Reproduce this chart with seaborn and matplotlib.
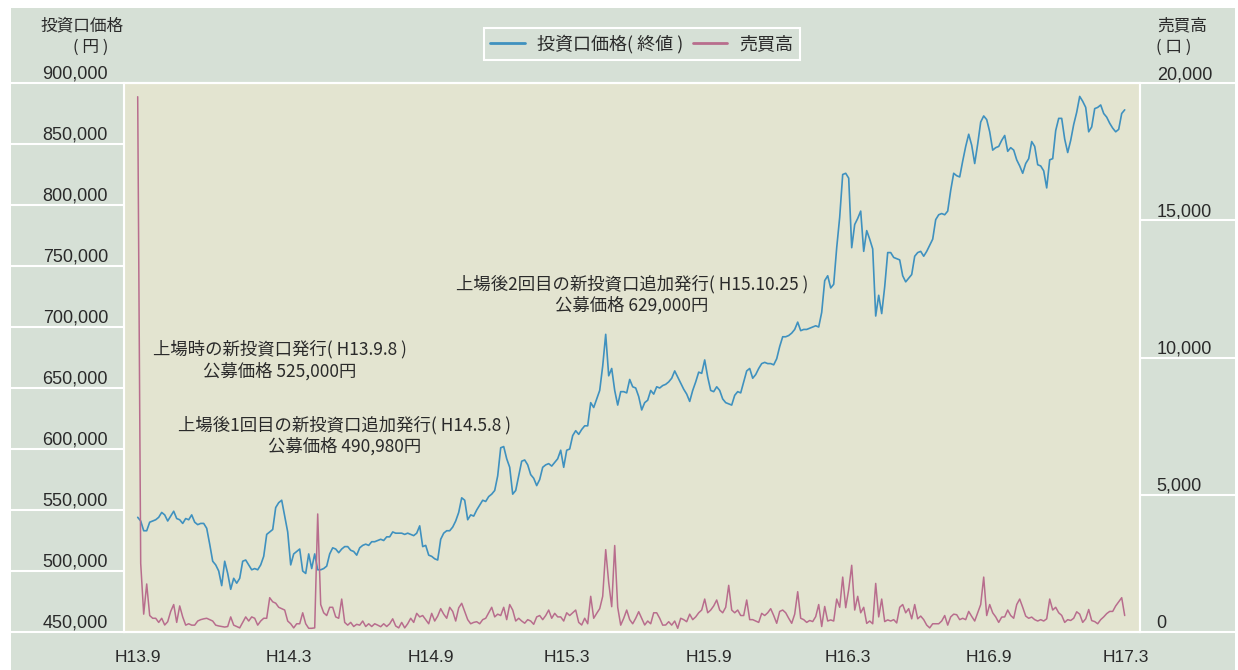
import numpy as np
import pandas as pd
import seaborn as sns
import matplotlib.pyplot as plt
from matplotlib.lines import Line2D
from matplotlib.patches import Rectangle

# closing price (thousand yen), one sample every 3 trading days from listing
price = [
    544, 541, 533, 533, 540, 541, 542, 544, 548, 546,
    541, 545, 549, 543, 542, 539, 543, 542, 546, 540,
    538, 539, 539, 535, 522, 508, 505, 500, 488, 508,
    498, 485, 494, 490, 494, 508, 509, 505, 501, 502,
    501, 505, 512, 530, 532, 534, 552, 556, 558, 545,
    532, 505, 514, 516,
    518, 500, 498, 514, 502, 514, 501, 501, 502, 504,
    514, 519, 518, 515, 518, 520, 520, 517, 516, 513,
    519, 521, 522, 521, 524, 524, 525, 526, 525, 528,
    528, 532, 531, 531, 531, 530, 531, 530, 529, 531,
    537, 520, 521, 513, 512, 510, 509, 526, 531, 533,
    533, 536, 541, 548, 560, 558, 542,
    546, 545, 550, 554, 558, 557, 561, 563, 566, 578,
    601, 602, 592, 585, 563, 566, 578, 590, 591, 587,
    579, 576, 570, 575, 585, 587, 588, 586, 589, 592,
    599, 585, 599, 600, 611, 615, 612, 616, 619, 619,
    638, 634, 641, 648, 668, 694, 660, 666, 648, 636,
    647, 647, 646, 657, 651, 650, 643,
    632, 638, 640, 648, 645, 651, 650, 652, 653, 655,
    658, 664, 659, 654, 649, 645, 639, 648, 655, 663,
    662, 673, 659, 648, 647, 651, 648, 641, 638, 637,
    636, 644, 647, 646, 655, 664, 666, 658, 661, 666,
    670, 671, 670, 670, 669, 674, 684, 692, 692, 693,
    695, 698, 704, 697, 698, 698,
    699, 700, 701, 700, 712, 738, 742, 732, 735, 765,
    790, 825, 826, 822, 765, 784, 789, 795, 762, 779,
    772, 764, 709, 726, 711, 733, 761, 761, 757, 756,
    755, 742, 737, 740, 743, 758, 761, 762, 758, 762,
    767, 772, 788, 792, 793, 792, 795, 812, 826, 824,
    823, 836, 848, 858, 849, 834, 850,
    868, 873, 870, 860, 845, 847, 848, 853, 857, 844,
    847, 845, 837, 832, 826, 834, 838, 852, 848, 833,
    832, 828, 814, 837, 838, 861, 871, 871, 854, 843,
    853, 866, 876, 889, 885, 880, 860, 864, 879, 880,
    882, 875, 872, 867, 863, 860, 862, 875, 878,
]

# trading volume (units), same sampling
volume = [
    19500, 2500, 650, 1750, 600, 500, 500, 350, 500, 255,
    375, 750, 1000, 350, 950, 550, 250, 300, 250, 250,
    400, 450, 480, 500, 450, 400, 250, 220, 200, 180,
    200, 550, 250, 200, 150, 350, 550, 400, 550, 500,
    250, 400, 500, 500, 1250, 1100, 1050, 900, 850, 800,
    400, 300, 150, 300,
    300, 700, 300, 135, 135, 150, 4300, 1000, 700, 600,
    900, 900, 550, 500, 1200, 350, 250, 350, 200, 280,
    250, 400, 200, 300, 200, 300, 250, 193, 300, 200,
    300, 480, 220, 150, 350, 150, 300, 500, 350, 680,
    550, 600, 450, 300, 680, 400, 580, 850, 650, 500,
    900, 750, 400, 880, 1045, 750, 450,
    300, 350, 375, 300, 450, 500, 700, 900, 550, 650,
    600, 900, 450, 1000, 800, 400, 500, 400, 320, 450,
    400, 280, 550, 600, 450, 600, 800, 500, 680, 550,
    550, 400, 700, 600, 700, 800, 350, 255, 500, 300,
    1300, 500, 680, 850, 1300, 3000, 1800, 922, 3150, 900,
    250, 500, 800, 450, 300, 500, 740,
    500, 255, 400, 300, 700, 700, 500, 250, 255, 375,
    250, 400, 135, 500, 450, 375, 650, 450, 550, 700,
    800, 1200, 700, 800, 950, 1166, 800, 700, 900, 1700,
    800, 700, 800, 600, 600, 1166, 450, 450, 400, 350,
    680, 600, 700, 850, 600, 317, 750, 800, 700, 500,
    317, 650, 1468, 500, 450, 350,
    420, 380, 560, 1000, 200, 930, 400, 440, 400, 1200,
    900, 2000, 885, 1550, 2430, 800, 1300, 700, 900, 313,
    400, 300, 1770, 550, 1200, 379, 441, 400, 450, 330,
    900, 1000, 700, 850, 480, 1000, 480, 580, 450, 251,
    150, 300, 300, 300, 400, 600, 251, 550, 650, 630,
    450, 500, 450, 750, 568, 400, 700,
    1000, 2000, 600, 1000, 700, 550, 350, 543, 550, 800,
    600, 500, 1000, 1200, 900, 580, 500, 543, 450, 400,
    450, 400, 480, 1200, 800, 900, 700, 605, 350, 450,
    420, 500, 736, 650, 350, 480, 820, 415, 380, 300,
    450, 550, 670, 750, 750, 950, 1100, 1250, 600,
]

tick_days = [0, 151, 293, 429, 571, 710, 851, 988]
tick_labels = ['H13.9', 'H14.3', 'H14.9', 'H15.3', 'H15.9', 'H16.3', 'H16.9', 'H17.3']
price_ticks = list(range(450000, 900001, 50000))
volume_ticks = [0, 5000, 10000, 15000, 20000]

df = pd.DataFrame({
    'day': np.arange(len(price)) * 3,
    'price': np.array(price) * 1000,
    'volume': volume,
})

BG = '#d6e0d6'
PLOT_BG = '#e3e4d0'
BLUE = '#3f91bf'
PINK = '#b86d8d'
TXT = '#2a2a2a'
TICK_GREEN = '#5f9f6f'

sns.set_style('white')
plt.rcParams['font.family'] = ['Noto Sans CJK JP', 'DejaVu Sans']

fig = plt.figure(figsize=(12.38, 6.70), dpi=100)
fig.patch.set_facecolor('white')
fig.add_artist(Rectangle((11 / 1238, 0), 1224 / 1238, 1 - 8 / 670,
                         transform=fig.transFigure, facecolor=BG,
                         edgecolor='none', zorder=-10))

ax = fig.add_axes([124 / 1238, 1 - 632 / 670, 1016 / 1238, 549 / 670])
ax.set_facecolor(PLOT_BG)
ax2 = ax.twinx()

sns.lineplot(data=df, x='day', y='price', ax=ax, color=BLUE, linewidth=1.2)
sns.lineplot(data=df, x='day', y='volume', ax=ax2, color=PINK, linewidth=1.1)

ax.set_xlim(-13.7, 1002.3)
ax.set_ylim(450000, 900000)
ax2.set_ylim(0, 20000)
ax.set_xlabel('')
ax.set_ylabel('')
ax2.set_ylabel('')

ax.set_xticks(tick_days, tick_labels)
ax.tick_params(axis='x', length=5, width=1, color=TICK_GREEN, direction='out',
               pad=8, labelsize=12.5, labelcolor=TXT, labelfontfamily='Liberation Sans')

ax.set_yticks(price_ticks, [f'{v:,}' for v in price_ticks])
ax.tick_params(axis='y', length=0, pad=11.5, labelsize=13, labelcolor=TXT,
               labelfontfamily='Liberation Sans')
for t in ax.get_yticklabels():
    t.set_verticalalignment('bottom')

ax2.set_yticks(volume_ticks, [f'{v:,}' for v in volume_ticks])
ax2.tick_params(axis='y', length=0, pad=12, labelsize=13, labelcolor=TXT,
                labelfontfamily='Liberation Sans')
for t in ax2.get_yticklabels():
    t.set_verticalalignment('bottom')

for a in (ax, ax2):
    for s in a.spines.values():
        s.set_color('white')
        s.set_linewidth(1.5)

# white rules across the label margins
left_w = 113 / 1016
right_w = 95 / 1016
for v in price_ticks[1:-1]:
    ax.axhline(v, xmin=-left_w, xmax=0, color='white', lw=1.5, clip_on=False)
for v in (price_ticks[0], price_ticks[-1]):
    ax.axhline(v, xmin=-left_w, xmax=1 + right_w, color='white', lw=1.5, clip_on=False)
for v in volume_ticks[1:-1]:
    ax2.axhline(v, xmin=1, xmax=1 + right_w, color='white', lw=1.5, clip_on=False)

# axis titles
fig.text(40 / 1238, 1 - 26 / 670, '投資口価格', fontsize=12, color=TXT, va='center')
fig.text(91 / 1238, 1 - 47 / 670, '( 円 )', fontsize=12, color=TXT, va='center', ha='center')
fig.text(1157 / 1238, 1 - 26 / 670, '売買高', fontsize=12, color=TXT, va='center')
fig.text(1156 / 1238, 1 - 47 / 670, '( 口 )', fontsize=12, color=TXT, va='center')

# annotations
notes = [
    (0.1535, 0.495, '上場時の新投資口発行( H13.9.8 )\n公募価格 525,000円'),
    (0.2175, 0.358, '上場後1回目の新投資口追加発行( H14.5.8 )\n公募価格 490,980円'),
    (0.5, 0.6138, '上場後2回目の新投資口追加発行( H15.10.25 )\n公募価格 629,000円'),
]
for x, y, s in notes:
    ax.text(x, y, s, transform=ax.transAxes, ha='center', va='center',
            multialignment='center', fontsize=12.5, color=TXT, linespacing=1.2)

handles = [Line2D([], [], color=BLUE, lw=2), Line2D([], [], color=PINK, lw=2)]
leg = fig.legend(handles, ['投資口価格( 終値 )', '売買高'], loc='center',
                 bbox_to_anchor=(642 / 1238, 1 - 44 / 670), ncol=2, fontsize=13,
                 frameon=True, facecolor=BG, edgecolor='white', fancybox=False,
                 framealpha=1, handlelength=1.9, handletextpad=0.7,
                 columnspacing=0.5, borderpad=0.35)
leg.get_frame().set_linewidth(1.5)
for t in leg.get_texts():
    t.set_color(TXT)

fig.savefig('out.png', dpi=100)
